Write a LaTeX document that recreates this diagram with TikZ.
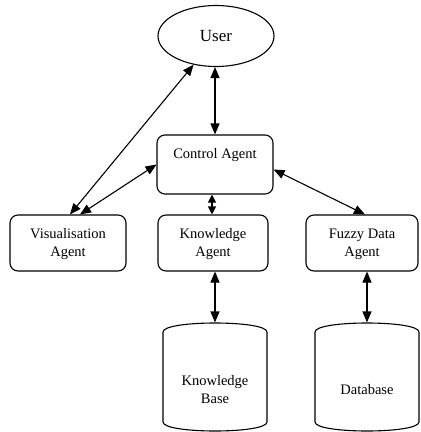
\documentclass[tikz,border=0pt]{standalone}
\usepackage{fontspec}
\setmainfont{Liberation Serif}
\usetikzlibrary{shapes.geometric,arrows.meta}
\begin{document}
\begin{tikzpicture}[x=1pt,y=-1pt,
  line width=1.1pt,
  agent/.style={draw,rounded corners=8pt,inner sep=0pt},
  txt/.style={align=center,font=\fontsize{14.5}{18}\selectfont,inner sep=0pt},
  hidden/.style={inner sep=0pt,draw=none},
  link/.style={{Triangle[length=11pt,width=9pt]}-{Triangle[length=11pt,width=9pt]}},
  shortlink/.style={{Triangle[length=8pt,width=8pt]}-{Triangle[length=8pt,width=8pt]}}
]
\useasboundingbox (0,0) rectangle (421,432);
% nodes
\node[draw,ellipse,minimum width=116pt,minimum height=61pt,inner sep=0pt,font=\fontsize{17}{20}\selectfont] (user) at (216,36) {User};
\node[agent,minimum width=116pt,minimum height=59pt] (ctrl) at (215,164.5) {};
\node[txt] (ctrltxt) at (215,155) {Control Agent};
\node[agent,minimum width=116pt,minimum height=56pt] (vis) at (68,243) {};
\node[txt] (vistxt) at (68,244) {Visualisation\\Agent};
\node[agent,minimum width=110pt,minimum height=56pt] (ka) at (213,243) {};
\node[txt] (katxt) at (213,244) {Knowledge\\Agent};
\node[agent,minimum width=112pt,minimum height=56pt] (fz) at (362,243) {};
\node[txt] (fztxt) at (362,244) {Fuzzy Data\\Agent};
% cylinders
\node[hidden,minimum width=104pt,minimum height=108pt] (kb) at (215,377) {};
\draw (163,332) .. controls (163,320) and (267,320) .. (267,332) -- (267,422)
      .. controls (267,434) and (163,434) .. (163,422) -- cycle;
\node[txt] (kbtxt) at (215,390) {Knowledge\\Base};
\node[hidden,minimum width=104pt,minimum height=108pt] (db) at (367,377) {};
\draw (315,332) .. controls (315,320) and (419,320) .. (419,332) -- (419,422)
      .. controls (419,434) and (315,434) .. (315,422) -- cycle;
\node[txt] (dbtxt) at (367,390) {Database};
% connectors
\draw[link] ([xshift=-1pt]user.south) -- (ctrl.north);
\draw[link] (user.-128) -- ([xshift=2pt]vis.north);
\draw[link] (ctrl.west) -- ([xshift=12pt]vis.north);
\draw[shortlink] ([xshift=-3pt]ctrl.south) -- ([xshift=-1pt]ka.north);
\draw[link] ([yshift=-5pt]ctrl.east) -- ([xshift=3pt]fz.north);
\draw[link] ([xshift=2pt]ka.south) -- (kb.north);
\draw[link] ([xshift=5pt]fz.south) -- (db.north);
\end{tikzpicture}
\end{document}
